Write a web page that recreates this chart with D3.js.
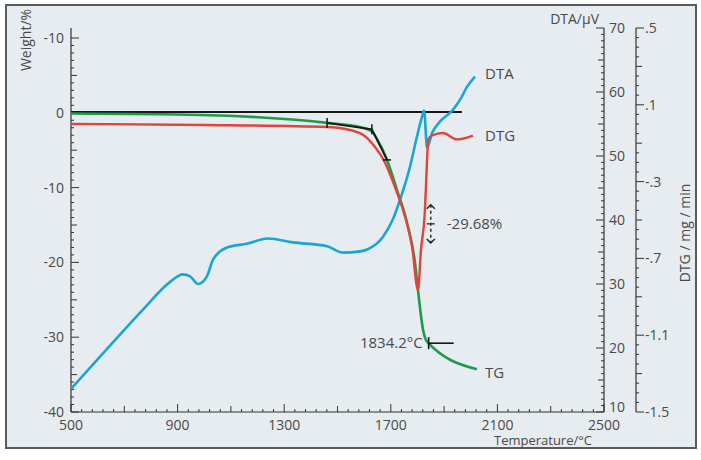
<!DOCTYPE html>
<html><head><meta charset="utf-8">
<script src="https://cdn.jsdelivr.net/npm/d3@7"></script>
<style>
body{margin:0;background:#fff;}
svg{display:block;font-family:"Open Sans","Noto Sans",sans-serif;}
</style></head>
<body><svg id="c" width="701" height="460"></svg>
<script>
// ---- data ----
const xTickLabels = [500, 900, 1300, 1700, 2100, 2500];
const wTickVals = [10, 0, -10, -20, -30, -40];
const wTickLabels = ["-10", "0", "-10", "-20", "-30", "-40"];
const dtaTickLabels = [70, 60, 50, 40, 30, 20, 10];
const dtgTickVals = [0.5, 0.1, -0.3, -0.7, -1.1, -1.5];
const dtgTickLabels = [".5", ".1", "-.3", "-.7", "-1.1", "-1.5"];

// TG (weight %)
const tgT = [500, 984, 1461, 1584, 1629, 1648, 1686, 1723, 1761, 1791, 1802, 1821, 1836, 2023];
const tgW = [-0.1, -0.3, -1.35, -1.9, -2.5, -3.5, -6.3, -10.3, -14.7, -20.1, -23.7, -29.0, -30.6, -34.3];
// DTG (mg/min)
const dtgT = [500, 1000, 1461, 1584, 1641, 1678, 1716, 1753, 1780, 1802, 1813, 1828, 1836, 1840, 1855, 1896, 1948, 2008];
const dtgV = [0.0, -0.005, -0.016, -0.047, -0.12, -0.20, -0.33, -0.48, -0.64, -0.865, -0.66, -0.45, -0.19, -0.08, -0.06, -0.047, -0.08, -0.06];
// DTA (µV)
const dtaT = [500, 658, 770, 871, 920, 947, 977, 1010, 1033, 1085, 1160, 1239, 1333, 1461, 1521, 1584, 1611, 1671, 1708, 1735, 1772, 1798, 1817, 1825, 1836, 1855, 1885, 1933, 1960, 1986, 2016];
const dtaV = [13.6, 20.9, 26.0, 30.3, 31.5, 31.2, 30.0, 31.2, 33.8, 35.7, 36.3, 37.1, 36.5, 35.9, 34.9, 35.1, 35.4, 37.4, 40.1, 43.2, 48.3, 53.0, 56.1, 57.1, 51.3, 53.6, 55.4, 57.2, 58.8, 60.8, 62.4];

// baseline & onset construction (weight units)
const baseT = [500, 1967];
const baseW = [0.1, 0.1];
const tanT = [1461, 1629, 1686];
const tanW = [-1.35, -2.2, -6.3];
const onsetT = [1842, 1936];
const onsetW = [-30.8, -30.8];
const lossT = 1850;
const lossW = [-12.3, -17.4];

// ---- scales ----
const svg = d3.select("#c");
const x = d3.scaleLinear().domain([500, 2500]).range([71, 604]);
const yW = d3.scaleLinear().domain([-40, 10]).range([412, 38]);
const yA = d3.scaleLinear().domain([10, 70]).range([412, 28]);
const yG = d3.scaleLinear().domain([-1.5, 0.5]).range([412, 28]);

const txt = "#4a4a4a";
const ax = "#333";

// frame
svg.append("rect").attr("x", 6).attr("y", 5).attr("width", 690).attr("height", 443)
  .attr("fill", "#e6ecef").attr("stroke", "#5a5a5a").attr("stroke-width", 2);

const g = svg.append("g");

// ---- axes ----
// x axis
g.append("line").attr("x1", x(500)).attr("x2", x(2500)).attr("y1", 412).attr("y2", 412).attr("stroke", ax).attr("stroke-width", 1.2);
d3.range(500, 2501, 40).forEach(t => {
  const len = (t - 500) % 400 === 0 ? 8 : ((t - 500) % 200 === 0 ? 6 : 3);
  g.append("line").attr("x1", x(t)).attr("x2", x(t)).attr("y1", 412).attr("y2", 412 - len).attr("stroke", ax).attr("stroke-width", 1);
});
xTickLabels.forEach(t => g.append("text").attr("x", x(t)).attr("y", 430).attr("text-anchor", "middle")
  .attr("font-size", 14).attr("fill", txt).text(t));
g.append("text").attr("x", 592).attr("y", 445).attr("text-anchor", "end").attr("font-size", 13).attr("fill", txt).text("Temperature/°C");

// left weight axis
g.append("line").attr("x1", 71).attr("x2", 71).attr("y1", 28).attr("y2", 412).attr("stroke", ax).attr("stroke-width", 1.2);
d3.range(-40, 11, 1).forEach(v => {
  const len = v % 10 === 0 ? 8 : (v % 5 === 0 ? 6 : 3);
  g.append("line").attr("x1", 71).attr("x2", 71 + len).attr("y1", yW(v)).attr("y2", yW(v)).attr("stroke", ax).attr("stroke-width", 1);
});
wTickVals.forEach((v, i) => g.append("text").attr("x", 64).attr("y", yW(v) + 5).attr("text-anchor", "end")
  .attr("font-size", 14).attr("fill", txt).text(wTickLabels[i]));
g.append("text").attr("transform", "translate(31,40) rotate(-90)").attr("text-anchor", "middle")
  .attr("font-size", 14).attr("fill", txt).text("Weight/%");

// right DTA axis
const xa = 604;
g.append("line").attr("x1", xa).attr("x2", xa).attr("y1", 28).attr("y2", 412).attr("stroke", ax).attr("stroke-width", 1.2);
d3.range(10, 71, 1).forEach(v => {
  const len = v % 10 === 0 ? 8 : (v % 5 === 0 ? 6 : 3);
  g.append("line").attr("x1", xa).attr("x2", xa - len).attr("y1", yA(v)).attr("y2", yA(v)).attr("stroke", ax).attr("stroke-width", 1);
});
dtaTickLabels.forEach(v => g.append("text").attr("x", 609).attr("y", yA(v) + (v === 10 ? 0 : 5)).attr("font-size", 14).attr("fill", txt).text(v));
g.append("text").attr("x", 599).attr("y", 24).attr("text-anchor", "end").attr("font-size", 14).attr("fill", txt).text("DTA/μV");

// right DTG axis
const xg = 636;
g.append("line").attr("x1", xg).attr("x2", xg).attr("y1", yG(0.5)).attr("y2", yG(-1.5)).attr("stroke", ax).attr("stroke-width", 1.2);
d3.range(0, 41, 1).forEach(k => {
  const v = 0.5 - k * 0.05;
  const len = k % 8 === 0 ? 8 : (k % 4 === 0 ? 6 : 3);
  g.append("line").attr("x1", xg).attr("x2", xg + len).attr("y1", yG(v)).attr("y2", yG(v)).attr("stroke", ax).attr("stroke-width", 1);
});
dtgTickVals.forEach((v, i) => g.append("text").attr("x", 645).attr("y", yG(v) + 5).attr("font-size", 14).attr("fill", txt).text(dtgTickLabels[i]));
g.append("text").attr("transform", "translate(690,233) rotate(-90)").attr("text-anchor", "middle")
  .attr("font-size", 14).attr("fill", txt).text("DTG / mg / min");

// ---- curves ----
const line = (ys) => d3.line().x(d => x(d[0])).y(d => ys(d[1])).curve(d3.curveMonotoneX);
const zip = (a, b) => a.map((v, i) => [v, b[i]]);

g.append("path").datum(zip(baseT, baseW)).attr("d", d3.line().x(d => x(d[0])).y(d => yW(d[1])))
  .attr("fill", "none").attr("stroke", "#161616").attr("stroke-width", 2);
g.append("path").datum(zip(dtaT, dtaV)).attr("d", line(yA)).attr("fill", "none").attr("stroke", "#1aa5d6").attr("stroke-width", 2.6);
g.append("path").datum(zip(tgT, tgW)).attr("d", line(yW)).attr("fill", "none").attr("stroke", "#1f9a4d").attr("stroke-width", 2.6);
g.append("path").datum(zip(dtgT, dtgV)).attr("d", line(yG)).attr("fill", "none").attr("stroke", "#e0443a").attr("stroke-width", 2.4);

// onset construction
g.append("path").datum(zip(tanT, tanW)).attr("d", d3.line().x(d => x(d[0])).y(d => yW(d[1])))
  .attr("fill", "none").attr("stroke", "#161616").attr("stroke-width", 1.8);
tanT.forEach((t, i) => {
  const px = x(t), py = yW(tanW[i]);
  if (i < 2) g.append("line").attr("x1", px).attr("x2", px).attr("y1", py - 5).attr("y2", py + 5).attr("stroke", "#161616").attr("stroke-width", 1.5);
  else g.append("line").attr("x1", px - 4).attr("x2", px + 4).attr("y1", py).attr("y2", py).attr("stroke", "#161616").attr("stroke-width", 1.5);
});

// onset temperature marker
g.append("line").attr("x1", x(onsetT[0])).attr("x2", x(onsetT[1])).attr("y1", yW(onsetW[0])).attr("y2", yW(onsetW[1])).attr("stroke", "#161616").attr("stroke-width", 1.6);
g.append("line").attr("x1", x(onsetT[0])).attr("x2", x(onsetT[0])).attr("y1", yW(onsetW[0]) - 6).attr("y2", yW(onsetW[0]) + 6).attr("stroke", "#161616").attr("stroke-width", 1.6);
g.append("text").attr("x", x(onsetT[0]) - 6).attr("y", yW(onsetW[0]) + 5).attr("text-anchor", "end")
  .attr("font-size", 15).attr("fill", txt).text("1834.2°C");

// mass loss arrow
const ax1 = x(lossT), ya1 = yW(lossW[0]), ya2 = yW(lossW[1]), ym = (ya1 + ya2) / 2;
g.append("line").attr("x1", ax1).attr("x2", ax1).attr("y1", ya1).attr("y2", ya2).attr("stroke", "#222").attr("stroke-width", 1.4).attr("stroke-dasharray", "3,3");
g.append("path").attr("d", `M${ax1 - 4},${ya1 + 4}L${ax1},${ya1}L${ax1 + 4},${ya1 + 4}M${ax1 - 4},${ya2 - 4}L${ax1},${ya2}L${ax1 + 4},${ya2 - 4}M${ax1 - 4},${ym}L${ax1 + 4},${ym}`)
  .attr("fill", "none").attr("stroke", "#222").attr("stroke-width", 1.4);
g.append("text").attr("x", ax1 + 16).attr("y", ym + 5).attr("font-size", 15).attr("fill", txt).text("-29.68%");

// series labels
g.append("text").attr("x", 485).attr("y", yA(dtaV[dtaV.length - 1]) + 2).attr("font-size", 15).attr("fill", txt).text("DTA");
g.append("text").attr("x", 485).attr("y", yG(dtgV[dtgV.length - 1]) + 5).attr("font-size", 15).attr("fill", txt).text("DTG");
g.append("text").attr("x", 485).attr("y", yW(tgW[tgW.length - 1]) + 9).attr("font-size", 15).attr("fill", txt).text("TG");
</script></body></html>
